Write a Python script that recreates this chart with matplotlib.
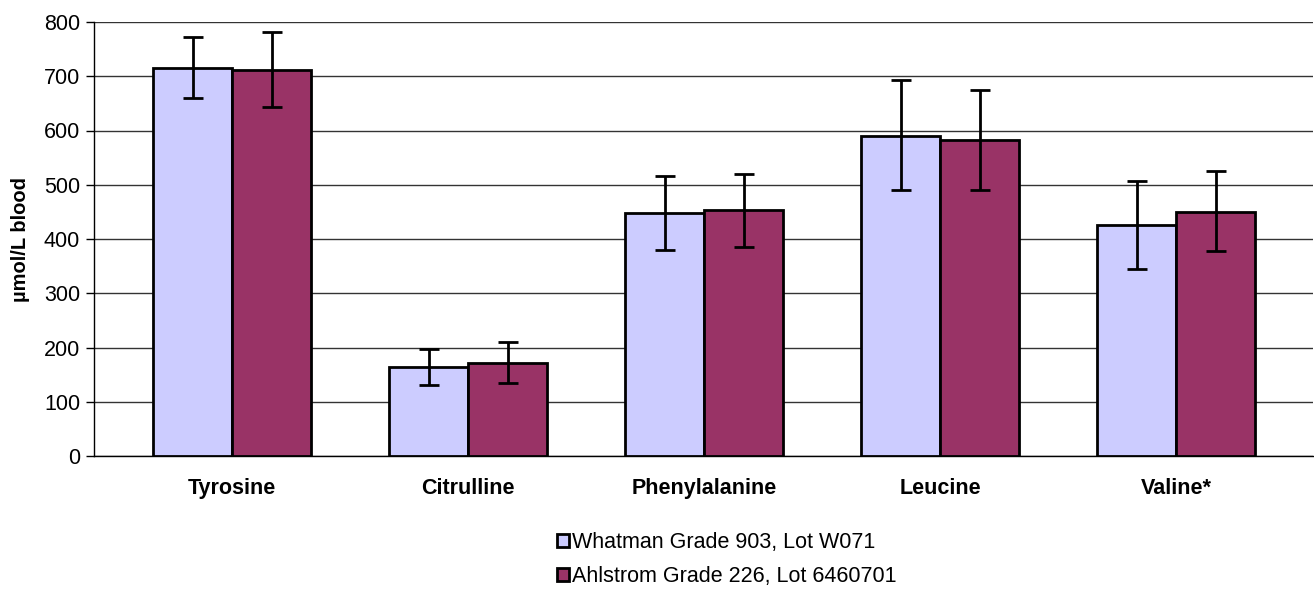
import matplotlib.pyplot as plt
import numpy as np

plt.rcParams['font.family'] = ['Liberation Sans', 'DejaVu Sans']

categories = ['Tyrosine', 'Citrulline', 'Phenylalanine', 'Leucine', 'Valine*']
whatman = [715, 164, 448, 590, 426]
whatman_hi = [772, 197, 516, 693, 506]
whatman_lo = [659, 131, 379, 490, 345]
ahlstrom = [712, 172, 453, 582, 450]
ahlstrom_hi = [781, 211, 520, 675, 525]
ahlstrom_lo = [643, 134, 386, 490, 378]
labels = ['Whatman Grade 903, Lot W071', 'Ahlstrom Grade 226, Lot 6460701']


def err(vals, lo, hi):
	v = np.array(vals)
	return [v - np.array(lo), np.array(hi) - v]


fig = plt.figure(figsize=(13.14, 5.9), dpi=100)
ax = fig.add_axes([94 / 1314, 134 / 590, 1219 / 1314, 434 / 590])

x = np.arange(len(categories))
w = 0.335
ekw = dict(elinewidth=2, capthick=2, capsize=7.5, ecolor='black')
ax.bar(x - w / 2, whatman, w, color='#CCCCFF', edgecolor='black', linewidth=2,
	yerr=err(whatman, whatman_lo, whatman_hi), error_kw=ekw, label=labels[0], zorder=3)
ax.bar(x + w / 2, ahlstrom, w, color='#993366', edgecolor='black', linewidth=2,
	yerr=err(ahlstrom, ahlstrom_lo, ahlstrom_hi), error_kw=ekw, label=labels[1], zorder=3)

ax.set_xlim(-0.585, 4.58)
ax.set_ylim(0, 800)
ax.set_yticks(range(0, 801, 100))
ax.tick_params(axis='y', labelsize=15.5, length=6, width=1, direction='out', pad=4)
ax.set_xticks(x)
ax.set_xticklabels(categories, fontsize=15.5, fontweight='bold')
ax.tick_params(axis='x', length=0, pad=16)
ax.yaxis.grid(True, color='#333333', linewidth=1, zorder=0)
ax.set_axisbelow(True)
for s in ['top', 'right']:
	ax.spines[s].set_visible(False)
ax.spines['left'].set_linewidth(1)
ax.spines['bottom'].set_linewidth(1)
ax.set_ylabel('µmol/L blood', fontsize=14.5, fontweight='bold', labelpad=10)

fig.legend(loc='upper left', bbox_to_anchor=(538 / 1314, 1 - 513 / 590), frameon=False,
	fontsize=15.5, handlelength=0.56, handleheight=0.56, handletextpad=0.12, labelspacing=0.6)

fig.savefig('out.png', dpi=100)
